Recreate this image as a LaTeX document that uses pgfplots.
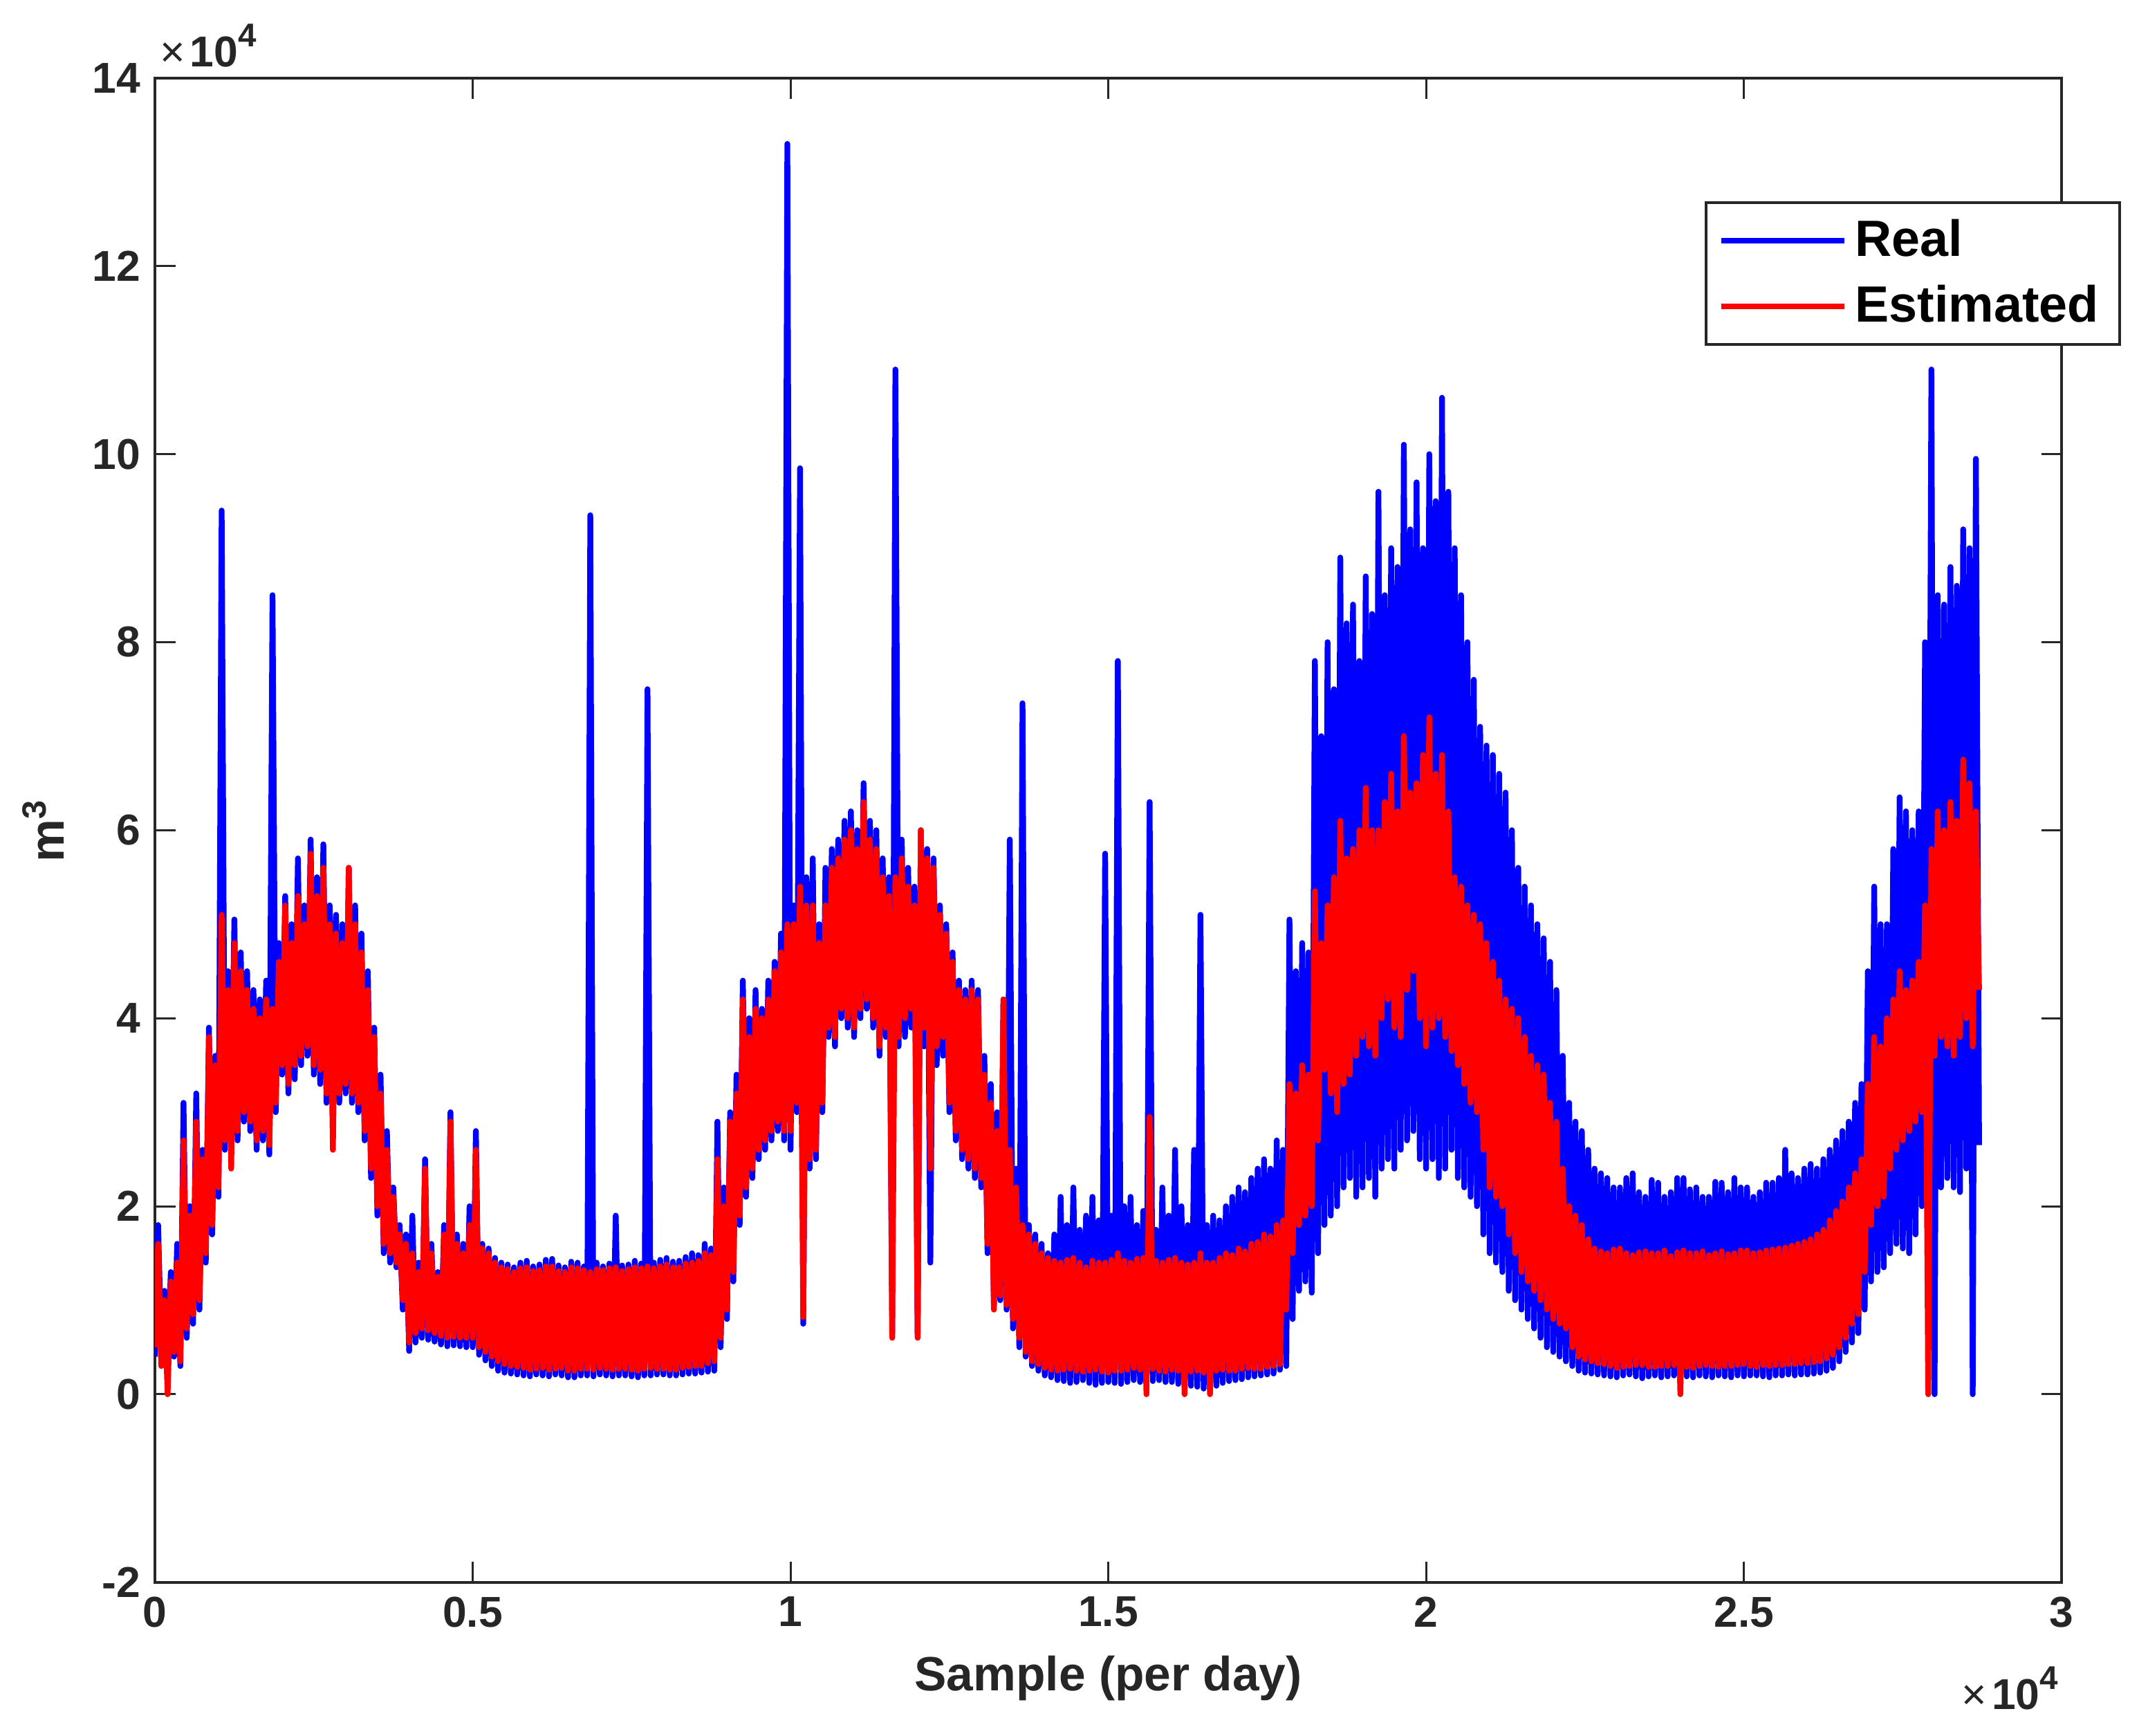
\documentclass[border=0pt]{standalone}
\usepackage{fontspec}
\setmainfont{Liberation Sans}
\usepackage{pgfplots}
\usepackage{pgfplotstable}
\pgfplotsset{compat=1.18}
\definecolor{axgray}{RGB}{38,38,38}
\newcommand{\tenfour}{{\fontsize{10.5}{12}\selectfont ×\hspace{1.2pt}\bfseries 10\raisebox{5pt}{\fontsize{8}{9}\selectfont\bfseries 4}}}

% daily volume, real vs estimated (m^3); rows alternate low / high readings
\pgfplotstableread{
x real est
0 4000 5000
50 18000 16000
100 5000 3000
150 11000 10000
200 3500 0
250 13000 12000
300 4000 4500
350 16000 14000
400 3000 3500
450 31000 27000
500 6000 7000
550 20000 19000
600 7500 8500
650 32000 29000
700 9000 10000
750 26000 25000
800 14000 15000
850 39000 38000
900 17000 18000
950 36000 35000
1000 21000 22000
1050 94000 51000
1100 26000 27000
1150 45000 43000
1200 28000 24000
1250 50500 48000
1300 27000 28000
1350 47000 45000
1400 29000 30000
1450 45000 43000
1500 28000 29000
1550 43000 41000
1600 26000 27000
1650 42000 40000
1700 27000 28000
1750 44000 42000
1800 25500 26500
1850 85000 41000
1900 30000 31000
1950 48000 46000
2000 34000 35000
2050 53000 52000
2100 32000 33000
2150 50000 48000
2200 33500 35000
2250 57000 53000
2300 35000 36000
2350 52000 50000
2400 36000 37000
2450 59000 57500
2500 34000 35000
2550 55000 53000
2600 33000 34500
2650 58500 56000
2700 31000 32000
2750 52000 50000
2800 29000 26000
2850 51000 49000
2900 31000 32000
2950 50000 48000
3000 32000 33000
3050 56000 56000
3100 31000 32000
3150 52000 50000
3200 30000 31000
3250 49000 47000
3300 27000 28000
3350 45000 43000
3400 23000 24000
3450 39000 38000
3500 19000 20000
3550 34000 32000
3600 15000 16000
3650 28000 26000
3700 14000 15000
3750 22000 21000
3800 13500 14000
3850 18000 17000
3900 9000 10000
3950 17000 16000
4000 4600 5500
4050 19000 15000
4100 5500 6500
4150 14000 13000
4200 6000 7000
4250 25000 24000
4300 5800 6800
4350 16000 15000
4400 5600 6500
4450 13000 12500
4500 5300 6200
4550 18000 17000
4600 5100 6000
4650 30000 29000
4700 5200 6100
4750 17000 16000
4800 5100 6000
4850 16000 15000
4900 5000 6000
4950 20000 18000
5000 5000 6000
5050 28000 26000
5100 4200 5000
5150 16000 15500
5200 3600 4500
5250 15500 15000
5300 3000 4000
5350 14500 14000
5400 2500 3500
5450 14000 13500
5500 2300 3200
5550 13800 13300
5600 2200 3000
5650 13500 13000
5700 2100 2900
5750 14000 13400
5800 2000 2800
5850 14200 13500
5900 1900 2600
5950 13600 13100
6000 2100 2700
6050 13800 13200
6100 2000 2800
6150 14300 13600
6200 1900 2600
6250 14400 13600
6300 2100 2700
6350 13700 13100
6400 2000 2800
6450 13500 13000
6500 1800 2500
6550 14100 13500
6600 1800 2500
6650 14000 13400
6700 2000 2700
6750 13600 13200
6800 2000 2700
6850 93500 13000
6900 1900 2600
6950 14000 13300
7000 2100 2800
7050 13600 13200
7100 2000 2700
7150 13900 13400
7200 1900 2600
7250 19000 13500
7300 2000 2700
7350 13700 13100
7400 2000 2700
7450 13800 13300
7500 1900 2600
7550 14200 13500
7600 1800 2500
7650 13900 13400
7700 2000 2700
7750 75000 13600
7800 2000 2800
7850 14000 13400
7900 2100 2700
7950 14300 13600
8000 2100 2700
8050 14500 13800
8100 2000 2600
8150 14100 13500
8200 2000 2600
8250 14200 13500
8300 2100 2800
8350 14600 13900
8400 2200 2900
8450 15000 14000
8500 2200 3000
8550 14800 14200
8600 2300 3000
8650 16000 15000
8700 2400 3300
8750 15500 14800
8800 2500 3500
8850 29000 25000
8900 5000 6000
8950 22000 20000
9000 8000 9000
9050 30000 29000
9100 12000 13000
9150 34000 32000
9200 18000 19000
9250 44000 42000
9300 21000 22000
9350 40000 38000
9400 23000 24000
9450 43000 41000
9500 25000 26000
9550 41000 40000
9600 26000 27000
9650 44000 42000
9700 27000 28000
9750 46000 45000
9800 28000 29000
9850 49000 47000
9900 27000 28000
9950 133000 50000
10000 26000 28000
10050 52000 50000
10100 30000 31000
10150 98500 54000
10200 7500 8200
10250 55000 52000
10300 24000 25000
10350 57000 52000
10400 25000 26000
10450 50000 48000
10500 30000 31000
10550 56000 52000
10600 38000 39000
10650 58000 56000
10700 37000 38000
10750 59000 57000
10800 40000 41000
10850 61000 59000
10900 39000 40000
10950 62000 60000
11000 38000 39000
11050 60000 58000
11100 40000 41000
11150 65000 63000
11200 41000 42000
11250 61000 59000
11300 39000 40000
11350 60000 58000
11400 36000 37000
11450 57000 55000
11500 38000 39000
11550 55000 53000
11600 6500 6000
11650 109000 55000
11700 37000 38000
11750 59000 57000
11800 38000 40000
11850 56000 54000
11900 39000 41000
11950 54000 52000
12000 6500 6000
12050 60000 60000
12100 37000 39000
12150 58000 57000
12200 14000 24000
12250 57000 56000
12300 35000 37000
12350 52000 51000
12400 36000 38000
12450 50000 49000
12500 30000 31000
12550 47000 46000
12600 27000 28000
12650 44000 43000
12700 25000 26000
12750 43000 42000
12800 24000 25000
12850 44000 43000
12900 23000 24000
12950 43000 42000
13000 22000 23000
13050 36000 34000
13100 15000 16000
13150 33000 31000
13200 9500 9000
13250 30000 28000
13300 10000 10500
13350 42000 42000
13400 9000 9500
13450 59000 26000
13500 7000 8000
13550 24000 22000
13600 5000 6000
13650 73500 18000
13700 4000 4500
13750 18000 17000
13800 3000 3500
13850 17000 16000
13900 2500 3200
13950 16000 15000
14000 2000 2800
14050 15000 14500
14100 1800 2600
14150 17000 14200
14200 1500 2500
14250 21000 14000
14300 1400 2600
14350 18000 14300
14400 1200 2700
14450 22000 14500
14500 1300 2500
14550 17500 14000
14600 1500 2400
14650 19000 13500
14700 1200 2500
14750 21000 14200
14800 1000 2600
14850 18500 14000
14900 1200 2400
14950 57500 14000
15000 1300 2300
15050 19000 14300
15100 1200 2500
15150 78000 15000
15200 1100 2500
15250 20000 14200
15300 1300 2600
15350 21000 14000
15400 1500 2800
15450 18000 14400
15500 1300 2600
15550 19500 14500
15600 1200 0
15650 63000 29500
15700 1400 2700
15750 17500 14200
15800 1500 2500
15850 22000 14000
15900 1300 2400
15950 19000 14300
16000 1300 2600
16050 26000 14500
16100 1100 2500
16150 20000 14000
16200 1000 0
16250 18000 13800
16300 900 2400
16350 26000 14000
16400 800 2500
16450 51000 15000
16500 600 2300
16550 18000 14000
16600 500 0
16650 19000 14000
16700 900 2500
16750 18500 14500
16800 1200 2600
16850 20000 15000
16900 1400 2500
16950 21000 14800
17000 1500 2500
17050 22000 15500
17100 1600 2700
17150 21500 15200
17200 1800 2800
17250 23000 16000
17300 1900 2700
17350 24000 16200
17400 2000 2700
17450 25000 17000
17500 2100 2900
17550 24000 16800
17600 2200 3000
17650 27000 18000
17700 2600 3200
17750 26000 18500
17800 3000 9000
17850 50500 33000
17900 8000 15000
17950 45000 32000
18000 11000 18000
18050 48000 35000
18100 12000 19000
18150 47000 34000
18200 10800 20000
18250 78000 53500
18300 15000 27000
18350 70000 48000
18400 18000 34500
18450 80000 52000
18500 19000 32000
18550 75000 55000
18600 20000 30000
18650 89000 61000
18700 22000 33000
18750 82000 57000
18800 23000 34000
18850 84000 58000
18900 21000 36000
18950 78000 60000
19000 22000 38000
19050 87000 64500
19100 23000 37000
19150 83000 60000
19200 21000 36000
19250 96000 60000
19300 24000 40000
19350 85000 63000
19400 25000 42000
19450 90000 66000
19500 24000 39000
19550 88000 62000
19600 26000 38000
19650 101000 70000
19700 27000 43000
19750 92000 64000
19800 28000 45000
19850 97000 65000
19900 25000 40000
19950 90000 68000
20000 24000 37000
20050 100000 72000
20100 25000 39000
20150 95000 66000
20200 23000 40000
20250 106000 68000
20300 24000 38000
20350 96000 62000
20400 26000 36500
20450 90000 55000
20500 23000 35000
20550 85000 54000
20600 22000 33000
20650 80000 52000
20700 21000 31000
20750 76000 51000
20800 20000 30000
20850 71000 50000
20900 17000 26000
20950 69000 48000
21000 15000 22000
21050 68000 46000
21100 14000 21000
21150 66000 44000
21200 13000 20000
21250 64000 42000
21300 11000 17000
21350 60000 41000
21400 10000 15000
21450 56000 40000
21500 9000 13000
21550 54000 38000
21600 8000 12000
21650 52000 36000
21700 7000 11000
21750 50000 35000
21800 6000 10000
21850 48500 34000
21900 5000 9000
21950 46000 31000
22000 4500 8000
22050 43000 29000
22100 4000 7500
22150 36000 24000
22200 3500 7000
22250 31000 20000
22300 3000 5000
22350 29000 19000
22400 2500 4000
22450 28000 18000
22500 2300 3700
22550 26000 16500
22600 2200 3500
22650 24000 15500
22700 2100 3300
22750 23500 15200
22800 2000 3200
22850 23000 15000
22900 1900 3000
22950 22000 15400
23000 1800 2800
23050 22000 15500
23100 2000 2900
23150 23000 15000
23200 2100 3000
23250 23500 14800
23300 1900 3100
23350 21500 15100
23400 1700 3100
23450 21000 15200
23500 1900 2900
23550 22800 15000
23600 2000 2900
23650 22500 15000
23700 1800 3000
23750 21000 15300
23800 1900 3000
23850 21500 14700
23900 2000 3100
23950 23000 15100
24000 2000 0
24050 23000 15300
24100 1900 2900
24150 21800 15000
24200 1800 2800
24250 22000 15000
24300 2000 3000
24350 21000 15200
24400 1900 3100
24450 21000 14800
24500 1800 3000
24550 22600 15000
24600 2000 2900
24650 22500 15200
24700 1900 3000
24750 21500 14900
24800 1800 3000
24850 23000 15000
24900 2000 3100
24950 22000 15300
25000 1900 3200
25050 22000 15300
25100 2000 3000
25150 21000 15000
25200 2000 2900
25250 21500 15100
25300 1900 3100
25350 22500 15300
25400 1800 3000
25450 22500 15400
25500 2000 3100
25550 23000 15500
25600 2000 3100
25650 26000 15600
25700 2100 3200
25750 23500 15800
25800 2000 3200
25850 23000 16000
25900 2100 3300
25950 24000 16200
26000 2100 3300
26050 24500 16500
26100 2200 3400
26150 24000 17000
26200 2300 3500
26250 25000 17500
26300 2500 3800
26350 26000 18500
26400 2800 4200
26450 27000 19500
26500 3500 5000
26550 28000 20500
26600 4500 6000
26650 29000 22000
26700 5500 7500
26750 31000 23500
26800 6500 8500
26850 33000 25000
26900 9000 13000
26950 45000 33000
27000 12000 18000
27050 54000 38000
27100 13000 20000
27150 50000 37000
27200 13500 21000
27250 50000 40000
27300 15000 24000
27350 58000 42000
27400 16000 26000
27450 63500 45000
27500 15500 27000
27550 62000 43000
27600 15000 28000
27650 60000 44000
27700 17000 29000
27750 62000 46000
27800 20000 30000
27850 80000 52000
27900 22000 0
27950 109000 58000
28000 0 36000
28050 85000 62000
28100 22000 38000
28150 84000 60000
28200 23000 37000
28250 88000 63000
28300 22000 36000
28350 86000 61000
28400 21500 38000
28450 92000 67500
28500 24000 40000
28550 90000 65000
28600 0 37000
28650 99500 62000
28700 26500 43000
}\flowdata

\begin{document}
\begin{tikzpicture}
\begin{axis}[
    name=ax,
    scale only axis,
    width=464pt, height=366pt,
    xmin=0, xmax=30000, ymin=-20000, ymax=140000,
    xtick={0,5000,...,30000},
    ytick={-20000,0,20000,40000,60000,80000,100000,120000,140000},
    scaled x ticks=base 10:-4, scaled y ticks=base 10:-4,
    xtick scale label code/.code={}, ytick scale label code/.code={},
    /pgf/number format/assume math mode=true,
    tick label style={font=\fontsize{10.5}{12}\selectfont\bfseries, color=axgray},
    xlabel={Sample (per day)}, ylabel={m\textsuperscript{3}},
    label style={font=\fontsize{11.7}{13}\selectfont\bfseries, color=axgray},
    axis line style={color=axgray, line width=0.7pt},
    major tick style={color=axgray, line width=0.5pt},
    major tick length=5pt,
    tick align=inside,
    legend style={at={(rel axis cs:1.031,0.918)}, anchor=north east,
        draw=axgray, line width=0.7pt, fill=white,
        font=\fontsize{12.4}{14}\selectfont\bfseries,
        inner xsep=3pt, inner ysep=2pt, row sep=1.5pt},
    legend cell align=left,
    legend image code/.code={\draw[#1, line width=1.3pt] (0pt,0pt) -- (30pt,0pt);},
]
\addplot[blue, line width=1.4pt, line join=round] table[x=x, y=real]{\flowdata};
\addlegendentry{Real}
\addplot[red, line width=1.4pt, line join=round] table[x=x, y=est]{\flowdata};
\addlegendentry{Estimated}
\end{axis}
\node[anchor=base west, color=axgray, inner sep=0pt]
    at ([xshift=1pt,yshift=2.7pt]ax.north west) {\tenfour};
\node[anchor=base east, color=axgray, inner sep=0pt]
    at ([xshift=-0.7pt,yshift=-31pt]ax.south east) {\tenfour};
\pgfresetboundingbox
\path[use as bounding box] ([xshift=-37.7pt,yshift=-37.3pt]ax.south west)
    rectangle ([xshift=21pt,yshift=19pt]ax.north east);
\end{tikzpicture}
\end{document}
